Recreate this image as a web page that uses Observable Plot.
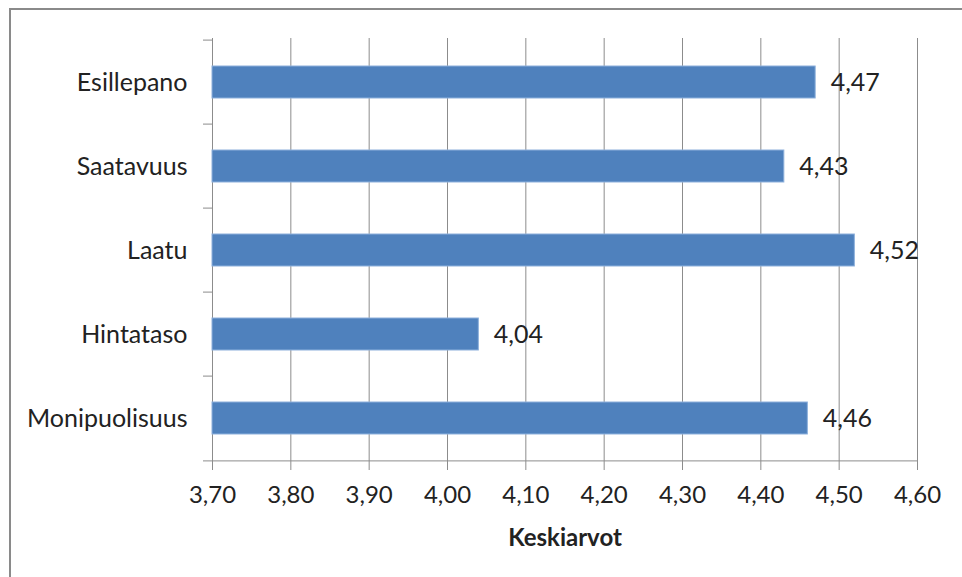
<!DOCTYPE html>
<html>
<head>
<meta charset="utf-8">
<script src="https://cdn.jsdelivr.net/npm/d3@7"></script>
<script src="https://cdn.jsdelivr.net/npm/@observablehq/plot@0.6"></script>
<style>
  html, body { margin: 0; padding: 0; background: #fff; }
  #wrap { position: relative; width: 962px; height: 577px; overflow: hidden; }
  #border {
    position: absolute; left: 9px; top: 8px; width: 1000px; height: 1000px;
    border-left: 2px solid #8a8a8a; border-top: 2px solid #8a8a8a;
    pointer-events: none;
  }
  #chart svg { display: block; }
</style>
</head>
<body>
<div id="wrap">
  <div id="chart"></div>
  <div id="border"></div>
</div>
<script>
// Category names, top to bottom
const categories = ["Esillepano", "Saatavuus", "Laatu", "Hintataso", "Monipuolisuus"];
// Mean score per category
const values = [4.47, 4.43, 4.52, 4.04, 4.46];
// X axis ticks and domain
const xTicks = [3.7, 3.8, 3.9, 4.0, 4.1, 4.2, 4.3, 4.4, 4.5, 4.6];
const xLabel = "Keskiarvot";

const data = categories.map((c, i) => ({category: c, value: values[i]}));
const fmt = d => d.toFixed(2).replace(".", ",");

const W = 962, H = 577;
const mTop = 38, mBottom = 115, mLeft = 212, mRight = 45;
const step = (H - mTop - mBottom) / categories.length;
const gridColor = "#8c8c8c";
const textColor = "#222";
const base = xTicks[0];

const chart = Plot.plot({
  width: W,
  height: H,
  marginTop: mTop,
  marginBottom: mBottom,
  marginLeft: mLeft,
  marginRight: mRight,
  style: {fontFamily: "Lato, 'Open Sans', sans-serif", fontSize: "24px", color: textColor, background: "transparent"},
  x: {domain: [xTicks[0], xTicks[xTicks.length - 1]]},
  y: {domain: categories, padding: 0},
  marks: [
    // vertical grid lines
    Plot.ruleX(xTicks, {stroke: gridColor, strokeWidth: 1}),
    // bars
    Plot.barX(data, {
      x1: base, x2: "value", y: "category",
      insetTop: 26, insetBottom: 26,
      fill: "#4f81bd", stroke: "#8db0dc", strokeWidth: 1
    }),
    // category boundary tick marks on the y axis
    Plot.ruleY(categories, {y: d => d, x1: base, x2: base, insetLeft: -9, dy: -step / 2, stroke: gridColor}),
    // x axis baseline with the last boundary tick
    Plot.ruleY([categories[categories.length - 1]], {y: d => d, x1: base, x2: xTicks[xTicks.length - 1], insetLeft: -9, dy: step / 2, stroke: gridColor}),
    Plot.axisX({ticks: xTicks, tickFormat: fmt, tickSize: 8, tickPadding: 15, stroke: gridColor, fill: textColor, label: null, fontSize: 24}),
    Plot.axisY({tickSize: 0, tickPadding: 25, label: null, fontSize: 25, fill: textColor}),
    // value labels
    Plot.text(data, {x: "value", y: "category", text: d => fmt(d.value), dx: 15, textAnchor: "start", fontSize: 25, fill: textColor}),
    // x axis title
    Plot.text([xLabel], {frameAnchor: "bottom", lineAnchor: "middle", dy: 76, fontWeight: "bold", fontSize: 24, fill: textColor})
  ]
});

document.getElementById("chart").appendChild(chart);
</script>
</body>
</html>
